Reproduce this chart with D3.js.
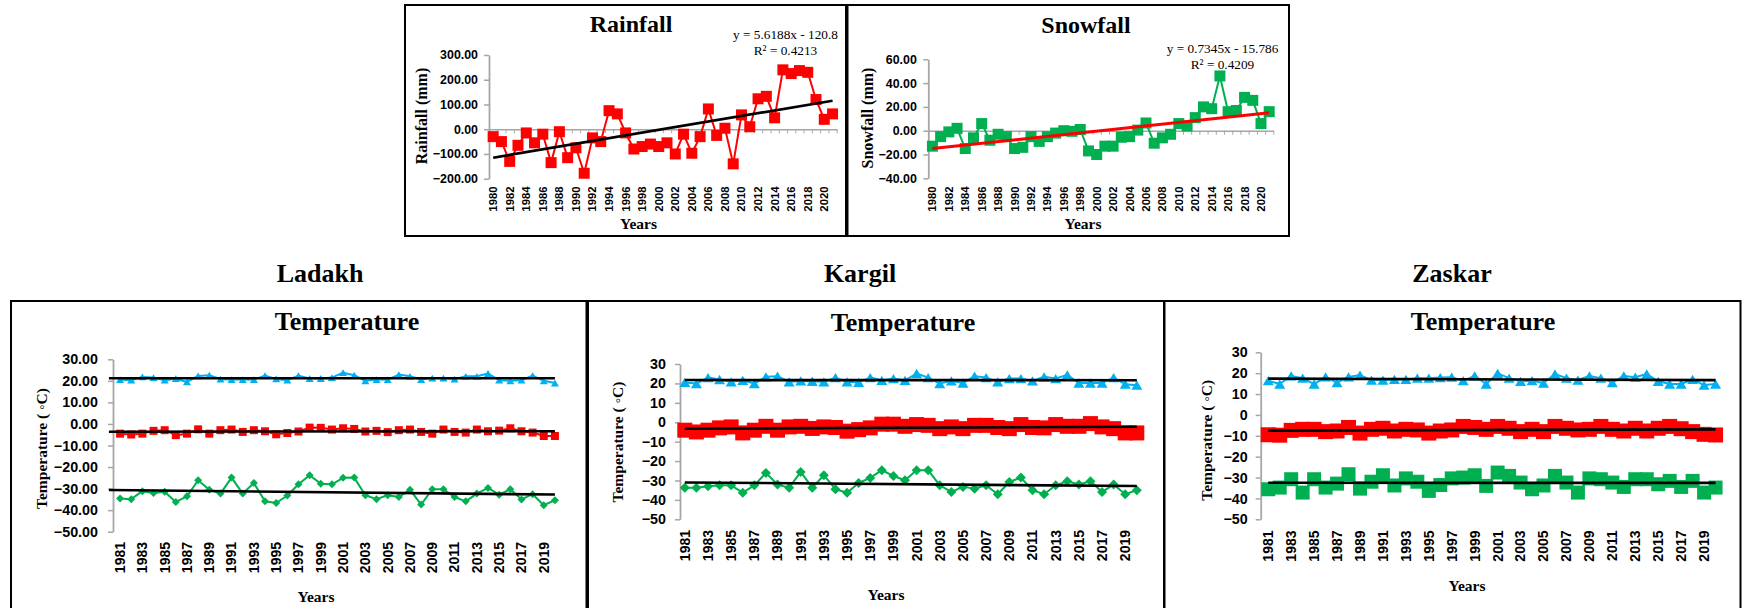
<!DOCTYPE html>
<html>
<head>
<meta charset="utf-8">
<script src="https://cdn.jsdelivr.net/npm/d3@7"></script>
<style>
  html, body { margin: 0; padding: 0; background: #fff; }
  svg { display: block; }
</style>
</head>
<body>
<svg id="chart" width="1752" height="608"></svg>
<script>
// ---------- data ----------
const precipYears = [1980,1981,1982,1983,1984,1985,1986,1987,1988,1989,1990,1991,1992,1993,1994,1995,1996,1997,1998,1999,2000,
  2001,2002,2003,2004,2005,2006,2007,2008,2009,2010,2011,2012,2013,2014,2015,2016,2017,2018,2019,2020,2021];
const precipLabelYears = [1980,1982,1984,1986,1988,1990,1992,1994,1996,1998,2000,2002,2004,2006,2008,2010,2012,2014,2016,2018,2020];

const rainfall = [-30,-50,-130,-65,-15,-55,-20,-135,-10,-115,-75,-178,-35,-50,75,62,-15,
  -80,-70,-60,-70,-55,-100,-20,-97,-30,82,-25,4,-140,58,10,123,133,46,240,225,237,230,120,40,62];
const snowfall = [-13,-5,-1,2,-15,-6,6,-8,-3,-5,-15,-14,-5,-9,-5,-2,0,
  -0.5,1,-17,-20,-13,-13,-5.5,-5,0.5,6.5,-10.5,-6,-3,6,4,11,20,18.5,46,16,17,28,25.5,6,16];

const rainfallFit = { slope: 5.6188, intercept: -120.8, r2: "0.4213" };
const snowfallFit = { slope: 0.7345, intercept: -15.786, r2: "0.4209" };

const rainfallTicks = [300,200,100,0,-100,-200];
const snowfallTicks = [60,40,20,0,-20,-40];
const tempTicks = [30,20,10,0,-10,-20,-30,-40,-50];

const tempYears = [1981,1982,1983,1984,1985,1986,1987,1988,1989,1990,1991,1992,1993,1994,1995,1996,1997,1998,1999,2000,
  2001,2002,2003,2004,2005,2006,2007,2008,2009,2010,2011,2012,2013,2014,2015,2016,2017,2018,2019,2020];
const tempLabelYears = [1981,1983,1985,1987,1989,1991,1993,1995,1997,1999,2001,2003,2005,2007,2009,2011,2013,2015,2017,2019];

const ladakhMax = [20.6,20.3,21.8,21.5,20.3,21,19.5,22.3,22.6,20.8,20.6,20.6,20.6,22.4,20.9,20.3,22.4,
  21.1,21.1,21.5,23.8,22.6,20,20.6,20.6,22.9,22.1,20.6,21.3,21.3,20.8,22.1,22.1,23.4,20.3,20,20.3,22.4,20,19];
const ladakhMean = [-4.5,-4.9,-4.5,-3.2,-2.9,-5.2,-4.5,-2.5,-4.5,-2.9,-2.6,-3.7,-2.9,-3.4,-4.8,-4.2,-3.5,
  -1.7,-1.8,-2.6,-2,-2.3,-3.5,-3.2,-3.8,-2.9,-2.6,-3.7,-4.5,-2.6,-3.7,-4,-2.6,-3.4,-3.1,-2,-3.4,-4,-5.6,-5.6];
const ladakhMin = [-34.6,-34.9,-31.2,-32,-31.5,-36.2,-33.6,-26.1,-30.5,-32.3,-24.9,-32.3,-27.4,-35.9,-36.7,-33.2,-28,
  -23.8,-27.7,-28,-25,-24.9,-33.1,-34.9,-33.1,-33.9,-30.5,-37.4,-30.3,-30.3,-33.9,-35.9,-32.3,-29.7,-32.8,-30.3,-35,-32.6,-37.7,-35.4];

const kargilMax = [20.5,19.9,23,22,20.8,21.6,19.9,23.4,23.7,20.8,21.3,21.1,20.8,23,20.8,20.5,23,
  21.6,22.5,21.6,25.1,23,19.9,21.3,20.2,23.7,23,20.8,22.5,22.5,21.3,23.4,22.5,24.4,20.2,20.2,20.2,23,19.6,19.1];
const kargilMean = [-4.1,-5,-4.1,-2.9,-2.4,-5.5,-4.1,-2.1,-4.1,-2.4,-2.1,-3.2,-2.4,-2.7,-4.6,-3.8,-2.9,
  -1,-1,-2.1,-1.2,-1.6,-3.3,-2.4,-3.3,-1.6,-1.6,-2.7,-3.3,-1.2,-2.7,-2.9,-1.2,-2.1,-2.1,-0.7,-2.4,-3.3,-5.5,-5.5];
const kargilMin = [-33.7,-33.7,-33,-32.5,-32.5,-36.3,-32.5,-26.1,-32.1,-33.8,-25.6,-33.7,-27.3,-34.5,-36.3,-31.3,-28.7,
  -24.7,-27.7,-29.9,-24.7,-24.7,-32.5,-35.9,-33.3,-34.2,-32.5,-37.1,-30.8,-28.5,-35,-37.1,-32.5,-30.4,-32.1,-30.4,-35.9,-32.1,-37.1,-35];

const zaskarMax = [16.4,14.8,18.7,17.6,14.8,18.2,15.5,18.2,19.1,16.7,16.7,17,17,17.6,17.6,17.9,18.1,
  16.4,18.7,14.8,19.9,17.6,16.1,16.4,15.3,19.6,17.6,16.7,18.7,17.6,15.5,18.7,18.1,19.6,16.1,14.8,14.8,17,14.3,14.8];
const zaskarMean = [-9.5,-9.7,-7.4,-6.9,-6.9,-8,-7.7,-6,-8.7,-6.9,-6.4,-7.7,-6.9,-7.2,-8.7,-7.7,-7.2,
  -5.5,-6,-6.9,-5.5,-6.4,-8,-6.9,-8,-5.5,-6.4,-7.2,-6.9,-5.5,-6.9,-7.7,-6.4,-7.7,-6.4,-5.5,-6.6,-8,-9.3,-9.6];
const zaskarMin = [-35.6,-34.8,-30.8,-37.2,-30.8,-34.8,-32.9,-28.4,-35.3,-32,-28.9,-33.8,-30.4,-32,-36.4,-33.6,-30.4,
  -30,-28.9,-34,-27.6,-29.2,-32.4,-35.6,-33.8,-29.2,-32.4,-37.2,-30.4,-30.8,-32.4,-34.5,-30.8,-30.8,-33.2,-31.6,-34.5,-31.6,-37.2,-34.8];

// ---------- styling ----------
const SERIF = '"Liberation Serif","Times New Roman",serif';
const SANS = '"Liberation Sans",Arial,sans-serif';
const AXIS_GREY = '#A6A6A6';
const RED = '#FF0000', GREEN = '#00B050', BLUE = '#00B0F0';

const svg = d3.select('#chart');

// marker outlines centred on (0,0)
function markerPath(shape, s) {
  const h = s / 2;
  if (shape === 'square') return `M${-h},${-h}H${h}V${h}H${-h}Z`;
  if (shape === 'diamond') return `M0,${-h}L${h},0L0,${h}L${-h},0Z`;
  const th = s * 0.85;   // triangle
  return `M0,${-th / 2}L${h},${th / 2}L${-h},${th / 2}Z`;
}

// ordinary least-squares fit over category index 1..n
function linearFit(values) {
  const xs = values.map((_, i) => i + 1);
  const mx = d3.mean(xs), my = d3.mean(values);
  let sxy = 0, sxx = 0;
  xs.forEach((x, i) => { sxy += (x - mx) * (values[i] - my); sxx += (x - mx) * (x - mx); });
  const slope = sxy / sxx;
  return { slope, intercept: my - slope * mx };
}

function frame(x0, y0, x1, y1) {
  svg.append('rect')
    .attr('x', x0).attr('y', y0).attr('width', x1 - x0).attr('height', y1 - y0)
    .attr('fill', 'none').attr('stroke', '#000').attr('stroke-width', 2);
}

function text(x, y, str, opts) {
  const t = svg.append('text')
    .attr('x', x).attr('y', y)
    .attr('text-anchor', opts.anchor || 'middle')
    .attr('font-family', opts.family || SERIF)
    .attr('font-size', opts.size)
    .attr('font-weight', opts.weight || 'normal')
    .attr('fill', '#000')
    .text(str);
  if (opts.rotate) t.attr('transform', `rotate(-90,${x},${y})`).attr('dy', '0.35em');
  return t;
}

function drawPanel(p) {
  const g = svg.append('g');
  const x = d3.scaleBand().domain(p.years).range(p.xRange).paddingInner(0).paddingOuter(0);
  const bw = x.bandwidth();
  const cx = yr => x(yr) + bw / 2;
  const y = d3.scaleLinear().domain(p.yDomain).range(p.yRange);
  const n = p.years.length;
  const xIdx = d3.scaleLinear().domain([1, n]).range([cx(p.years[0]), cx(p.years[n - 1])]);

  // horizontal category axis through zero, ticks between categories
  if (p.zeroAxis) {
    const bx = d3.scaleLinear().domain([0, n]).range(p.xRange);
    const xa = g.append('g').attr('transform', `translate(0,${y(0)})`)
      .call(d3.axisBottom(bx).tickValues(d3.range(n + 1)).tickFormat('').tickSize(4).tickSizeOuter(0));
    xa.select('.domain').attr('stroke', AXIS_GREY).attr('stroke-width', 1.6);
    xa.selectAll('.tick line').attr('stroke', AXIS_GREY).attr('stroke-width', 1);
  }

  // value axis
  const ya = g.append('g').attr('transform', `translate(${p.axisX},0)`)
    .call(d3.axisLeft(y).tickValues(p.yTicks).tickFormat(p.tickFmt)
      .tickSize(5).tickSizeOuter(0).tickPadding(p.tickPad));
  ya.select('.domain').attr('stroke', AXIS_GREY).attr('stroke-width', 1.8);
  ya.selectAll('.tick line').attr('stroke', AXIS_GREY).attr('stroke-width', 1.5);
  ya.selectAll('.tick text')
    .attr('font-family', SANS).attr('font-weight', 'bold')
    .attr('font-size', p.yTickSize).attr('fill', '#000');

  // rotated year labels
  const la = g.append('g').attr('transform', `translate(0,${p.labelTop})`)
    .call(d3.axisBottom(x).tickValues(p.labelYears).tickSize(0).tickPadding(0));
  la.select('.domain').remove();
  la.selectAll('.tick text')
    .attr('font-family', SANS).attr('font-weight', 'bold')
    .attr('font-size', p.xTickSize).attr('fill', '#000')
    .attr('transform', 'rotate(-90)')
    .attr('text-anchor', 'end')
    .attr('x', 0).attr('y', 0).attr('dy', '0.35em');

  // series: line then markers
  const line = d3.line().x((d, i) => cx(p.years[i])).y(d => y(d));
  p.series.forEach(s => {
    g.append('path').datum(s.values)
      .attr('d', line).attr('fill', 'none')
      .attr('stroke', s.color).attr('stroke-width', s.lineWidth || 2)
      .attr('stroke-linejoin', 'round');
    g.append('g').selectAll('path').data(s.values).join('path')
      .attr('transform', (d, i) => `translate(${cx(p.years[i])},${y(d)})`)
      .attr('d', markerPath(s.shape, s.size))
      .attr('fill', s.color);
  });

  // linear trend lines on top
  const tline = d3.line().x(d => xIdx(d[0])).y(d => y(d[1]));
  p.trends.forEach(t => {
    const i0 = 1 - (t.backward || 0), i1 = n;
    const pts = [[i0, t.slope * i0 + t.intercept], [i1, t.slope * i1 + t.intercept]];
    g.append('path').datum(pts).attr('d', tline)
      .attr('fill', 'none').attr('stroke', t.color || '#000')
      .attr('stroke-width', t.width || 2.6);
  });
}

// ---------- frames ----------
frame(405, 5, 846, 236);
frame(847.5, 5, 1289, 236);
frame(11, 301, 586.5, 700);
frame(588, 301, 1164, 700);
frame(1164.5, 301, 1740.5, 700);

// ---------- Rainfall ----------
drawPanel({
  years: precipYears, labelYears: precipLabelYears,
  xRange: [489, 836.7], axisX: 489,
  yDomain: [-200, 300], yRange: [178.7, 55], yTicks: rainfallTicks,
  tickFmt: d3.format('.2f'), tickPad: 6, yTickSize: 12.4, xTickSize: 11.3,
  labelTop: 186.5, zeroAxis: true,
  series: [{ values: rainfall, color: RED, shape: 'square', size: 11, lineWidth: 2 }],
  trends: [{ slope: rainfallFit.slope, intercept: rainfallFit.intercept, width: 2.7 }]
});
text(631, 32, 'Rainfall', { size: 24, weight: 'bold' });
text(785.5, 38.5, 'y = 5.6188x - 120.8', { size: 13.3 });
text(785.5, 55, 'R² = ' + rainfallFit.r2, { size: 13.3 });
text(421, 116, 'Rainfall (mm)', { size: 16, weight: 'bold', rotate: true });
text(638.5, 228.5, 'Years', { size: 15.5, weight: 'bold' });

// ---------- Snowfall ----------
drawPanel({
  years: precipYears, labelYears: precipLabelYears,
  xRange: [928.3, 1273.3], axisX: 928.3,
  yDomain: [-40, 60], yRange: [178.3, 59.3], yTicks: snowfallTicks,
  tickFmt: d3.format('.2f'), tickPad: 6.5, yTickSize: 12.4, xTickSize: 11.3,
  labelTop: 186.5, zeroAxis: true,
  series: [{ values: snowfall, color: GREEN, shape: 'square', size: 11, lineWidth: 2 }],
  trends: [{ slope: snowfallFit.slope, intercept: snowfallFit.intercept, color: RED, width: 3 }]
});
text(1086, 33, 'Snowfall', { size: 24, weight: 'bold' });
text(1222.5, 53.3, 'y = 0.7345x - 15.786', { size: 13.3 });
text(1222.5, 68.5, 'R² = ' + snowfallFit.r2, { size: 13.3 });
text(867.7, 118, 'Snowfall (mm)', { size: 16, weight: 'bold', rotate: true });
text(1083, 228.5, 'Years', { size: 15.5, weight: 'bold' });

// ---------- region headings ----------
text(320, 282, 'Ladakh', { size: 26, weight: 'bold' });
text(860, 282, 'Kargil', { size: 26, weight: 'bold' });
text(1452, 282, 'Zaskar', { size: 26, weight: 'bold' });

// ---------- temperature panels ----------
function tempTrends(maxV, meanV, minV, backward) {
  return [maxV, meanV, minV].map(v => Object.assign(linearFit(v), { backward, width: 2.6 }));
}

drawPanel({
  years: tempYears, labelYears: tempLabelYears,
  xRange: [114.5, 560.5], axisX: 113,
  yDomain: [-50, 30], yRange: [531.7, 359.3], yTicks: tempTicks,
  tickFmt: d3.format('.2f'), tickPad: 10, yTickSize: 14.3, xTickSize: 14,
  labelTop: 542,
  series: [
    { values: ladakhMax, color: BLUE, shape: 'triangle', size: 8 },
    { values: ladakhMean, color: RED, shape: 'square', size: 8 },
    { values: ladakhMin, color: GREEN, shape: 'diamond', size: 8 }
  ],
  trends: tempTrends(ladakhMax, ladakhMean, ladakhMin, 1)
});
text(347, 330, 'Temperature', { size: 26, weight: 'bold' });
text(42, 448.5, 'Temperature ( ◦C)', { size: 15.5, weight: 'bold', rotate: true });
text(316, 602, 'Years', { size: 15.5, weight: 'bold' });

drawPanel({
  years: tempYears, labelYears: tempLabelYears,
  xRange: [679, 1142.6], axisX: 680,
  yDomain: [-50, 30], yRange: [519.3, 364], yTicks: tempTicks,
  tickFmt: d3.format('d'), tickPad: 9, yTickSize: 14.3, xTickSize: 14,
  labelTop: 530,
  series: [
    { values: kargilMax, color: BLUE, shape: 'triangle', size: 11 },
    { values: kargilMean, color: RED, shape: 'square', size: 15 },
    { values: kargilMin, color: GREEN, shape: 'diamond', size: 10 }
  ],
  trends: tempTrends(kargilMax, kargilMean, kargilMin, 0)
});
text(903, 330.5, 'Temperature', { size: 26, weight: 'bold' });
text(618, 442, 'Temperature ( ◦C)', { size: 15.5, weight: 'bold', rotate: true });
text(886, 600, 'Years', { size: 15.5, weight: 'bold' });

drawPanel({
  years: tempYears, labelYears: tempLabelYears,
  xRange: [1262.5, 1721.3], axisX: 1260.7,
  yDomain: [-50, 30], yRange: [519.3, 352.3], yTicks: tempTicks,
  tickFmt: d3.format('d'), tickPad: 8, yTickSize: 14.3, xTickSize: 14,
  labelTop: 530.5,
  series: [
    { values: zaskarMax, color: BLUE, shape: 'triangle', size: 11 },
    { values: zaskarMean, color: RED, shape: 'square', size: 15 },
    { values: zaskarMin, color: GREEN, shape: 'square', size: 14 }
  ],
  trends: tempTrends(zaskarMax, zaskarMean, zaskarMin, 0)
});
text(1483, 330, 'Temperature', { size: 26, weight: 'bold' });
text(1206.7, 440.3, 'Temperature ( ◦C)', { size: 15.5, weight: 'bold', rotate: true });
text(1467, 591, 'Years', { size: 15.5, weight: 'bold' });
</script>
</body>
</html>
